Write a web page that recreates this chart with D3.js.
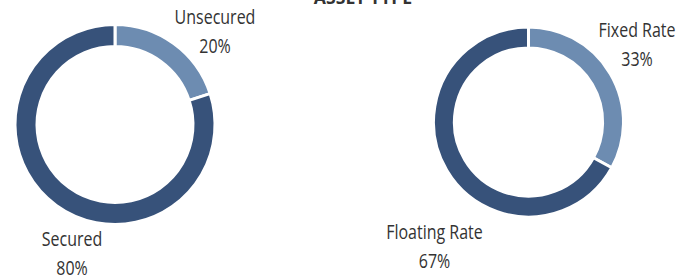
<!DOCTYPE html>
<html>
<head>
<meta charset="utf-8">
<script src="https://cdn.jsdelivr.net/npm/d3@7"></script>
<style>
  body { margin: 0; background: #fff; }
  text { font-family: "Open Sans", "Noto Sans", sans-serif; fill: #333; }
</style>
</head>
<body>
<svg id="chart" width="680" height="275"></svg>
<script>
// data
var title = "ASSET TYPE";
var securityLabels = ["Unsecured", "Secured"];
var securityValues = [20, 80];
var rateLabels = ["Fixed Rate", "Floating Rate"];
var rateValues = [33, 67];

var colors = ["#6d8cb1", "#37527a"];

var svg = d3.select("#chart");

svg.append("text")
  .attr("x", 363)
  .attr("y", 4)
  .attr("text-anchor", "middle")
  .style("font-weight", "bold")
  .style("font-size", "18px")
  .attr("transform", "translate(363,0) scale(0.98,1) translate(-363,0)")
  .text(title);

var pie = d3.pie().sort(null).value(function(d) { return d; });

// cx, cy, outer radius, label positions (centre x, baseline y of first line)
function donut(values, labels, cx, cy, r, labelPos) {
  var g = svg.append("g").attr("transform", "translate(" + cx + "," + cy + ")");
  var arc = d3.arc().innerRadius(r * 0.78).outerRadius(r);

  g.selectAll("path")
    .data(pie(values))
    .enter()
    .append("path")
      .attr("d", arc)
      .style("fill", function(d, i) { return colors[i]; })
      .style("stroke", "#fff")
      .style("stroke-width", 3);

  for (var i = 0; i < labels.length; i++) {
    var lx = labelPos[i][0], ly = labelPos[i][1];
    var t = svg.append("text")
      .attr("text-anchor", "middle")
      .style("font-size", "20.5px")
      .attr("transform", "translate(" + lx + "," + ly + ") scale(0.78,1)");
    t.append("tspan").attr("x", 0).attr("y", 0).text(labels[i]);
    t.append("tspan").attr("x", 0).attr("y", 29).text(values[i] + "%");
  }
}

donut(securityValues, securityLabels, 115, 124.5, 100, [[215, 24], [72, 246]]);
donut(rateValues, rateLabels, 528.5, 122, 95, [[637, 37], [434.5, 239]]);
</script>
</body>
</html>
